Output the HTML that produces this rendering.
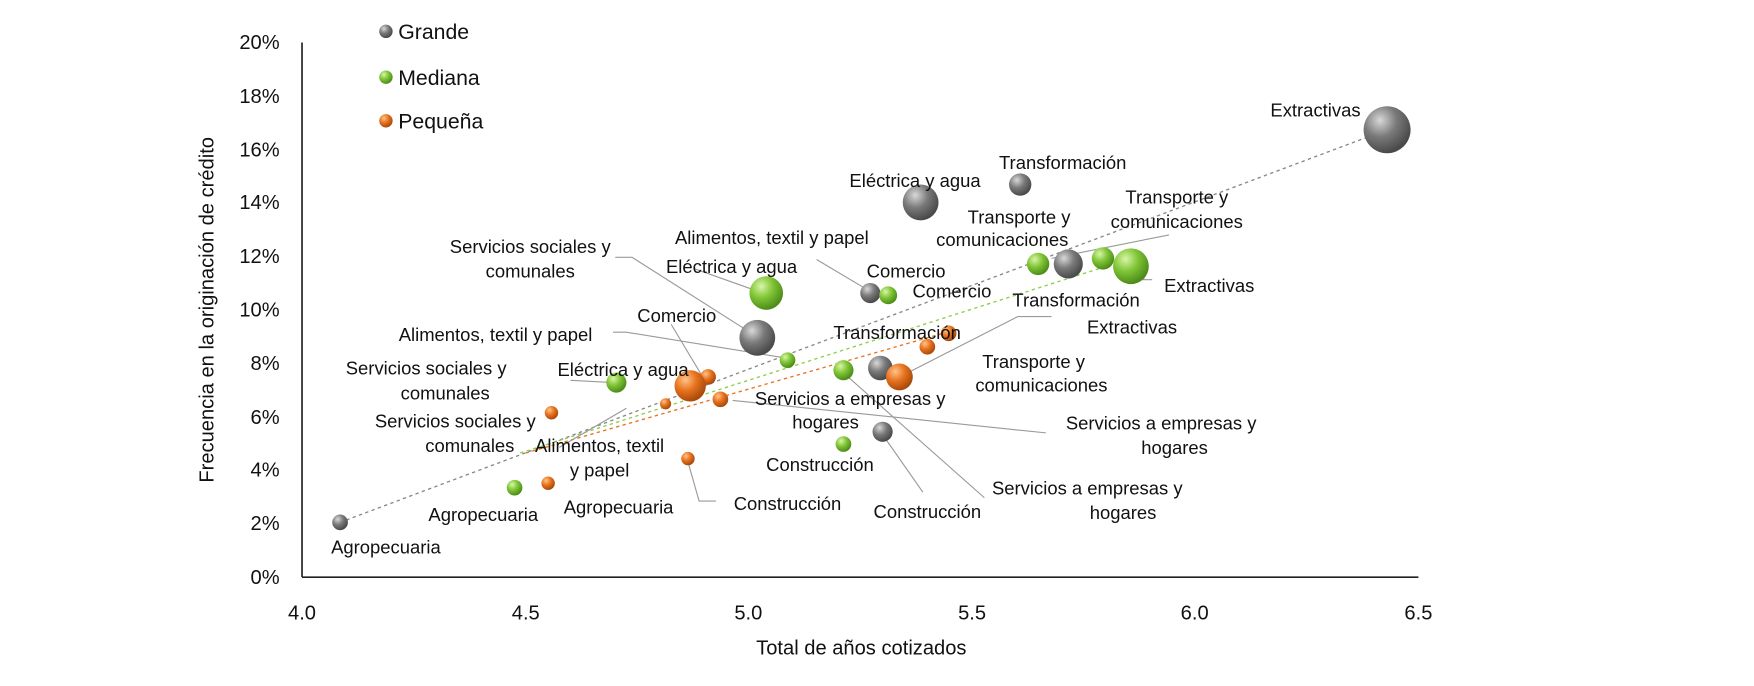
<!DOCTYPE html>
<html><head><meta charset="utf-8"><style>
html,body{margin:0;padding:0;background:#fff;}
svg{display:block;}
svg text{font-family:"Liberation Sans",sans-serif;fill:#111;}
</style></head><body>
<svg width="1754" height="686" viewBox="0 0 1568 613.3" preserveAspectRatio="none" xmlns="http://www.w3.org/2000/svg">
<defs>
<radialGradient id="g" cx="35%" cy="30%" r="70%"><stop offset="0" stop-color="#d8d8d8"/><stop offset="0.5" stop-color="#7a7a7a"/><stop offset="1" stop-color="#4a4a4a"/></radialGradient>
<radialGradient id="m" cx="35%" cy="30%" r="70%"><stop offset="0" stop-color="#d9f5a8"/><stop offset="0.5" stop-color="#7fc535"/><stop offset="1" stop-color="#4e8c1a"/></radialGradient>
<radialGradient id="o" cx="35%" cy="30%" r="70%"><stop offset="0" stop-color="#ffc48a"/><stop offset="0.5" stop-color="#e8731f"/><stop offset="1" stop-color="#a94a0c"/></radialGradient>
</defs>
<!-- axes -->
<line x1="270" y1="38" x2="270" y2="516" stroke="#222" stroke-width="1.5"/>
<line x1="270" y1="516" x2="1268" y2="516" stroke="#222" stroke-width="1.5"/>
<g font-size="18" text-anchor="end">
<text x="250" y="522">0%</text><text x="250" y="474">2%</text><text x="250" y="426">4%</text><text x="250" y="379">6%</text><text x="250" y="331">8%</text><text x="250" y="283">10%</text><text x="250" y="235">12%</text><text x="250" y="187">14%</text><text x="250" y="140">16%</text><text x="250" y="92">18%</text><text x="250" y="44">20%</text>
</g>
<g font-size="18" text-anchor="middle">
<text x="270" y="554">4.0</text><text x="470" y="554">4.5</text><text x="669" y="554">5.0</text><text x="869" y="554">5.5</text><text x="1068" y="554">6.0</text><text x="1268" y="554">6.5</text>
<text x="770" y="585">Total de años cotizados</text>
<text transform="translate(191,277) rotate(-90)">Frecuencia en la originación de crédito</text>
</g>
<!-- legend -->
<circle cx="345" cy="28" r="6" fill="url(#g)"/><text x="356" y="35" font-size="19">Grande</text>
<circle cx="345" cy="69" r="6" fill="url(#m)"/><text x="356" y="76" font-size="19">Mediana</text>
<circle cx="345" cy="108" r="6" fill="url(#o)"/><text x="356" y="115" font-size="19">Pequeña</text>
<!-- trend lines -->
<line x1="304" y1="467" x2="1240" y2="116" stroke="#888" stroke-width="1.2" stroke-dasharray="3,3"/>
<line x1="465" y1="405" x2="1005" y2="233" stroke="#8ccf4a" stroke-width="1.2" stroke-dasharray="3,3"/>
<line x1="470" y1="405" x2="850" y2="296" stroke="#e8731f" stroke-width="1.2" stroke-dasharray="3,3"/>
<!-- leader lines -->
<g stroke="#999" stroke-width="1" fill="none">
<polyline points="550,230 565,230 675,300"/>
<polyline points="620,240 682,262"/>
<polyline points="730,232 777,260"/>
<polyline points="548,297 560,297 702,320"/>
<polyline points="600,290 630,340"/>
<polyline points="510,340 548,342"/>
<polyline points="940,231 1045,210"/>
<polyline points="1025,243 1022,250 1030,250"/>
<polyline points="940,283 910,283 806,336"/>
<polyline points="655,358 935,387"/>
<polyline points="757,336 880,445"/>
<polyline points="790,390 825,440"/>
<polyline points="615,413 625,448 640,448"/>
<polyline points="560,365 500,400"/>
</g>
<g>
<circle cx="304" cy="467" r="7" fill="url(#g)"/>
<circle cx="677" cy="302" r="16" fill="url(#g)"/>
<circle cx="823" cy="181" r="16" fill="url(#g)"/>
<circle cx="912" cy="165" r="10" fill="url(#g)"/>
<circle cx="1240" cy="116" r="21" fill="url(#g)"/>
<circle cx="955" cy="236" r="13" fill="url(#g)"/>
<circle cx="778" cy="262" r="9" fill="url(#g)"/>
<circle cx="787" cy="329" r="11" fill="url(#g)"/>
<circle cx="789" cy="386" r="9" fill="url(#g)"/>
</g>
<g>
<circle cx="551" cy="342" r="9" fill="url(#m)"/>
<circle cx="685" cy="262" r="15" fill="url(#m)"/>
<circle cx="794" cy="264" r="8" fill="url(#m)"/>
<circle cx="704" cy="322" r="7" fill="url(#m)"/>
<circle cx="754" cy="331" r="9" fill="url(#m)"/>
<circle cx="928" cy="236" r="10" fill="url(#m)"/>
<circle cx="986" cy="231" r="10" fill="url(#m)"/>
<circle cx="1011" cy="238" r="16" fill="url(#m)"/>
<circle cx="460" cy="436" r="7" fill="url(#m)"/>
<circle cx="754" cy="397" r="7" fill="url(#m)"/>
</g>
<g>
<circle cx="633" cy="337" r="7" fill="url(#o)"/>
<circle cx="617" cy="345" r="14" fill="url(#o)"/>
<circle cx="595" cy="361" r="5" fill="url(#o)"/>
<circle cx="493" cy="369" r="6" fill="url(#o)"/>
<circle cx="644" cy="357" r="7" fill="url(#o)"/>
<circle cx="615" cy="410" r="6" fill="url(#o)"/>
<circle cx="490" cy="432" r="6" fill="url(#o)"/>
<circle cx="829" cy="310" r="7" fill="url(#o)"/>
<circle cx="848" cy="298" r="7" fill="url(#o)"/>
<circle cx="804" cy="337" r="12" fill="url(#o)"/>
</g>
<g font-size="16.5" text-anchor="middle">
<text x="345" y="495">Agropecuaria</text>
<text x="1176" y="104">Extractivas</text>
<text x="950" y="151">Transformación</text>
<text x="818" y="167">Eléctrica y agua</text>
<text x="1052" y="182">Transporte y</text><text x="1052" y="204">comunicaciones</text>
<text x="911" y="200">Transporte y</text><text x="896" y="220">comunicaciones</text>
<text x="690" y="218">Alimentos, textil y papel</text>
<text x="474" y="226">Servicios sociales y</text><text x="474" y="248">comunales</text>
<text x="654" y="244">Eléctrica y agua</text>
<text x="810" y="248">Comercio</text>
<text x="851" y="266">Comercio</text>
<text x="962" y="274">Transformación</text>
<text x="1081" y="261">Extractivas</text>
<text x="605" y="288">Comercio</text>
<text x="443" y="305">Alimentos, textil y papel</text>
<text x="1012" y="298">Extractivas</text>
<text x="802" y="303">Transformación</text>
<text x="924" y="329">Transporte y</text><text x="931" y="350">comunicaciones</text>
<text x="381" y="335">Servicios sociales y</text><text x="398" y="357">comunales</text>
<text x="557" y="336">Eléctrica y agua</text>
<text x="760" y="362">Servicios a empresas y</text><text x="738" y="383">hogares</text>
<text x="407" y="382">Servicios sociales y</text><text x="420" y="404">comunales</text>
<text x="536" y="404">Alimentos, textil</text><text x="536" y="426">y papel</text>
<text x="1038" y="384">Servicios a empresas y</text><text x="1050" y="406">hogares</text>
<text x="733" y="421">Construcción</text>
<text x="972" y="442">Servicios a empresas y</text><text x="1004" y="464">hogares</text>
<text x="432" y="466">Agropecuaria</text>
<text x="553" y="459">Agropecuaria</text>
<text x="704" y="456">Construcción</text>
<text x="829" y="463">Construcción</text>
</g>
</svg>
</body></html>
